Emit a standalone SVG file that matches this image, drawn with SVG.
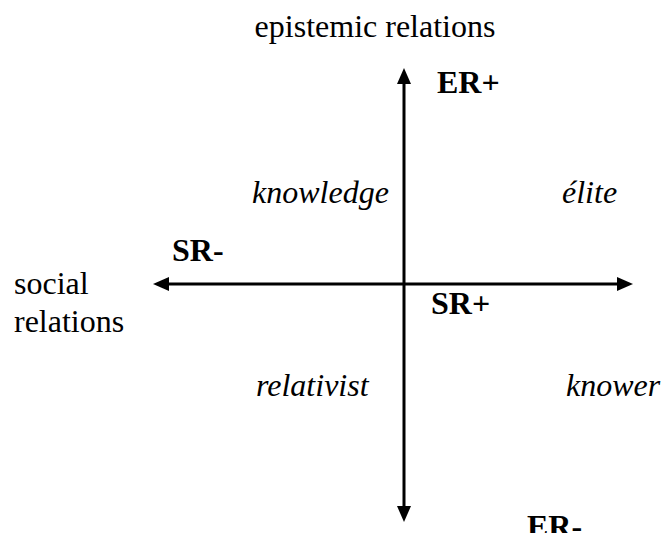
<svg xmlns="http://www.w3.org/2000/svg" width="662" height="533" viewBox="0 0 662 533">
<style>
text{font-family:"Liberation Serif","Times New Roman",serif;font-size:32px;fill:#000}
.b{font-weight:bold}
.i{font-style:italic}
.ax{stroke:#000;stroke-width:3;fill:none}
</style>
<defs>
<marker id="ah" viewBox="0 0 16 14" refX="8" refY="7" markerWidth="16" markerHeight="14" markerUnits="userSpaceOnUse" orient="auto-start-reverse">
<path d="M0,0 L16,7 L0,14 z" fill="#000"/>
</marker>
</defs>
<rect width="662" height="533" fill="#fff"/>
<g id="connectors">
<path class="ax" d="M404,514 L404,76" marker-start="url(#ah)" marker-end="url(#ah)"/>
<path class="ax" d="M161,284 L625,284" marker-start="url(#ah)" marker-end="url(#ah)"/>
</g>
<g id="axis-er-label"><text x="375" y="37" text-anchor="middle">epistemic relations</text></g>
<g id="er-plus"><text class="b" x="437" y="93">ER+</text></g>
<g id="knowledge"><text class="i" x="252" y="203">knowledge</text></g>
<g id="elite"><text class="i" x="562" y="203">élite</text></g>
<g id="sr-minus"><text class="b" x="172" y="261">SR-</text></g>
<g id="axis-sr-label"><text x="14" y="294">social</text><text x="14" y="332">relations</text></g>
<g id="sr-plus"><text class="b" x="431" y="314">SR+</text></g>
<g id="relativist"><text class="i" x="256" y="396">relativist</text></g>
<g id="knower"><text class="i" x="566" y="396">knower</text></g>
<g id="er-minus"><text class="b" x="527" y="537">ER-</text></g>
</svg>
